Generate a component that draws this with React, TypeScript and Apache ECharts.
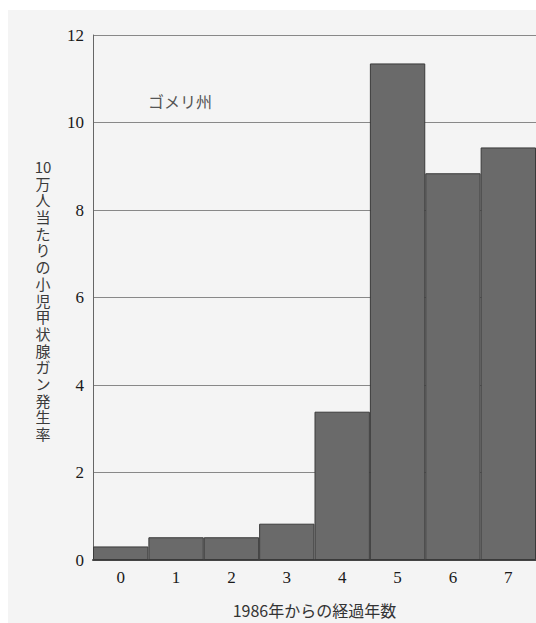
import React, { useEffect, useRef } from "react";
import * as echarts from "echarts";

const categories = ["0", "1", "2", "3", "4", "5", "6", "7"];
const values = [0.31, 0.52, 0.52, 0.83, 3.39, 11.35, 8.84, 9.43];
const yTicks = { min: 0, max: 12, interval: 2 };
const regionLabel = "ゴメリ州";
const yTitle = "10万人当たりの小児甲状腺ガン発生率";
const xTitle = "1986年からの経過年数";

function verticalize(s: string): string {
  const parts: string[] = [];
  let i = 0;
  while (i < s.length) {
    if (/[0-9]/.test(s[i])) {
      let j = i;
      while (j < s.length && /[0-9]/.test(s[j])) j++;
      parts.push(s.slice(i, j));
      i = j;
    } else {
      parts.push(s[i]);
      i++;
    }
  }
  return parts.join("\n");
}

export default function App() {
  const ref = useRef<HTMLDivElement>(null);
  useEffect(() => {
    if (!ref.current) return;
    const chart = echarts.init(ref.current, null, { renderer: "svg" });
    const serif = "'Liberation Serif', 'DejaVu Serif', serif";
    const cjk = "'Noto Sans CJK JP', sans-serif";
    chart.setOption({
      animation: false,
      backgroundColor: "#f4f4f4",
      grid: { left: 85, right: -2, top: 25, bottom: 60, containLabel: false },
      xAxis: {
        type: "category",
        data: categories,
        axisTick: { show: false },
        axisLine: { show: true, lineStyle: { color: "#444", width: 2 } },
        axisLabel: { fontFamily: serif, fontSize: 17, color: "#1a1a1a", margin: 9 },
        name: xTitle,
        nameLocation: "middle",
        nameGap: 42,
        nameTextStyle: { fontFamily: cjk, fontSize: 16, color: "#333" },
      },
      yAxis: {
        type: "value",
        min: yTicks.min,
        max: yTicks.max,
        interval: yTicks.interval,
        axisLine: { show: true, lineStyle: { color: "#666", width: 1 } },
        axisTick: { show: false },
        axisLabel: { fontFamily: serif, fontSize: 17, color: "#1a1a1a", margin: 9 },
        splitLine: { show: true, lineStyle: { color: "#888", width: 1 } },
      },
      graphic: [
        {
          type: "text",
          left: 140,
          top: 83,
          style: {
            text: regionLabel,
            font: `16px ${cjk}`,
            fill: "#555",
          },
        },
        {
          type: "text",
          x: 35,
          y: 290,
          style: {
            text: verticalize(yTitle),
            font: `15px ${cjk}`,
            lineHeight: 16.7,
            fill: "#3a3a3a",
            align: "center",
            verticalAlign: "middle",
          },
        },
      ],
      series: [
        {
          type: "bar",
          data: values,
          barCategoryGap: "0%",
          itemStyle: { color: "#6a6a6a", borderColor: "#3a3a3a", borderWidth: 1 },
        },
      ],
    });
    return () => chart.dispose();
  }, []);
  return (
    <div style={{ position: "absolute", left: 0, top: 0, width: 536, height: 623, background: "#ffffff", overflow: "hidden" }}>
      <div ref={ref} style={{ position: "absolute", left: 8, top: 10, width: 528, height: 613 }} />
    </div>
  );
}
